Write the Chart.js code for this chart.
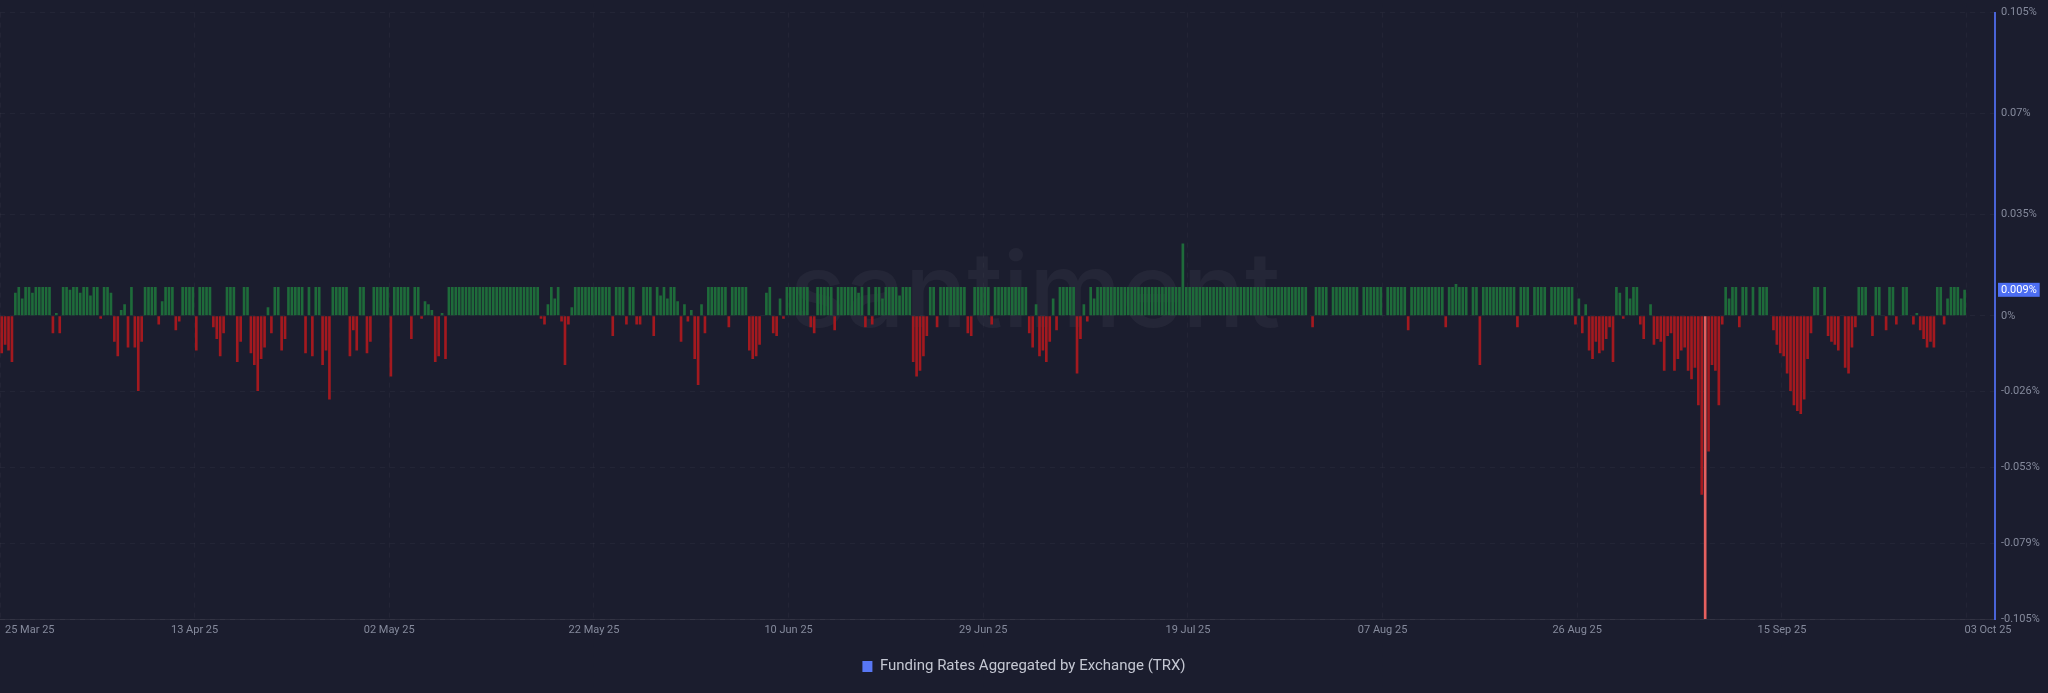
<!DOCTYPE html>
<html>
<head>
<meta charset="utf-8">
<script src="https://cdn.jsdelivr.net/npm/chart.js@4.4.0/dist/chart.umd.min.js"></script>
<style>
  html, body { margin: 0; padding: 0; background: #1b1d2e; }
  #chart { display: block; }
</style>
</head>
<body>
<canvas id="chart" width="2048" height="693"></canvas>
<script>
// funding rate every 8 hours from 25 Mar 25, in thousandths of a percent (10 = 0.01 %)
const rates = [
  -13,-10,-12,-16,8,10,6,10,10,8,10,10,10,10,10,-6,1,-6,10,10,9,10,10,8,
  10,10,7,10,10,-1,10,10,8,-9,-14,2,4,-11,10,-11,-26,-9,10,10,10,10,-3,5,
  10,10,10,-5,-2,10,10,10,10,-12,10,10,10,10,-4,-8,-14,-6,10,10,10,-16,-9,10,
  10,-13,-17,-26,-15,-11,3,-6,10,10,-12,-8,10,10,10,10,10,-13,10,-14,10,10,-17,-12,
  -29,10,10,10,10,10,-14,-5,-12,10,10,-13,-9,10,10,10,10,10,-21,10,10,10,10,10,
  -8,10,10,-1,5,4,2,-16,-14,1,-15,10,10,10,10,10,10,10,10,10,10,10,10,10,
  10,10,10,10,10,10,10,10,10,10,10,10,10,10,-1,-3,4,10,6,10,-2,-17,-3,3,
  10,10,10,10,10,10,10,10,10,10,10,-7,10,10,10,-3,10,10,-3,-3,10,10,10,-7,
  10,7,10,6,10,10,5,-9,4,-2,2,-15,-24,4,-6,10,10,10,10,10,10,-4,10,10,
  10,10,10,-12,-15,-14,-10,0,8,10,-6,-7,6,-1,10,10,10,10,10,10,10,-4,-6,10,
  10,10,10,10,-5,10,10,10,10,10,10,8,10,-4,10,-3,10,10,6,10,10,10,10,7,
  10,10,10,-16,-21,-19,-14,-7,10,10,-4,10,10,10,10,10,10,10,10,-6,-7,10,10,10,
  10,10,-3,10,10,10,10,10,10,10,10,10,10,-6,-11,4,-14,-12,-16,-9,6,-5,10,10,
  10,10,10,-20,-8,4,-2,10,6,10,10,10,10,10,10,10,10,10,10,10,10,10,10,10,
  10,10,10,10,10,10,10,10,10,10,25,10,10,10,10,10,10,10,10,10,10,10,10,10,
  10,10,10,10,10,10,10,10,10,10,10,10,10,10,10,10,10,10,10,10,10,10,10,0,
  -4,10,10,10,10,0,10,10,10,10,10,10,10,10,0,10,10,10,10,10,10,0,10,10,
  10,10,10,10,-5,10,10,10,10,10,10,10,10,10,10,-4,10,10,11,10,10,10,0,10,
  10,-17,10,10,10,10,10,10,10,10,10,10,-4,10,10,10,0,10,10,10,10,0,10,10,
  10,10,10,10,10,-3,6,-6,4,-12,-15,-9,-13,-12,-8,-4,-16,10,8,-1,10,6,10,10,
  -3,-8,0,4,-10,-8,-9,-19,-7,-6,-19,-15,-12,-11,-19,-22,-18,-31,-62,-105,-47,-17,-19,-31,
  -3,10,6,10,10,-4,10,10,0,10,0,10,10,10,0,-5,-10,-13,-14,-20,-26,-31,-33,-34,
  -29,-15,-6,10,10,0,10,-7,-9,-10,-12,0,-18,-20,-11,-4,10,10,10,0,-7,10,10,0,
  -5,10,10,-3,0,10,10,0,-3,1,-5,-8,-11,-9,-11,10,10,-3,6,10,10,10,6,9
];

// x ticks: days after 25 Mar 25
const tickDays = [0, 19, 38, 58, 77, 96, 116, 135, 154, 174, 192];
const tickLabels = ['25 Mar 25', '13 Apr 25', '02 May 25', '22 May 25', '10 Jun 25', '29 Jun 25',
  '19 Jul 25', '07 Aug 25', '26 Aug 25', '15 Sep 25', '03 Oct 25'];
const yTicks = [0.105, 0.07, 0.035, 0, -0.02625, -0.0525, -0.07875, -0.105];
const yTickLabels = ['0.105%', '0.07%', '0.035%', '0%', '-0.026%', '-0.053%', '-0.079%', '-0.105%'];
const seriesName = 'Funding Rates Aggregated by Exchange (TRX)';

const textGrey = '#858a9c';
const values = rates.map(r => r / 1000);
const points = values.map((v, i) => ({ x: i / 3 + 1 / 6, y: v }));
const lowest = Math.min(...values);
const barColors = values.map(v => v === lowest ? '#e5605f' : v >= 0 ? '#1e6b3a' : '#a3191f');

Chart.defaults.font.family = 'Roboto';

// big faint brand text behind the bars
const watermark = {
  id: 'watermark',
  beforeDatasetsDraw(chart) {
    const ctx = chart.ctx;
    ctx.save();
    ctx.font = '500 104px Inter';
    ctx.fillStyle = 'rgba(255,255,255,0.045)';
    ctx.textAlign = 'center';
    ctx.textBaseline = 'middle';
    ctx.fillText('santiment', 1035, 296);
    ctx.restore();
  }
};

// date labels, first and last one pushed inside like the original
const dateLabels = {
  id: 'dateLabels',
  afterDraw(chart) {
    const { ctx, chartArea } = chart;
    const xs = chart.scales.x;
    ctx.save();
    ctx.font = '11px Roboto';
    ctx.fillStyle = textGrey;
    ctx.textBaseline = 'middle';
    tickDays.forEach((d, i) => {
      let px = xs.getPixelForValue(d);
      ctx.textAlign = 'center';
      if (i === 0) { ctx.textAlign = 'left'; px += 5; }
      if (i === tickDays.length - 1) px = chartArea.right - 7;
      ctx.fillText(tickLabels[i], px, chartArea.bottom + 11);
    });
    ctx.restore();
  }
};

// blue tag with the latest value on the axis
const lastTag = {
  id: 'lastTag',
  afterDraw(chart) {
    const { ctx, chartArea } = chart;
    const last = values[values.length - 1];
    const y = chart.scales.y.getPixelForValue(last);
    const text = +last.toFixed(3) + '%';
    ctx.save();
    ctx.font = '11px Roboto';
    const w = ctx.measureText(text).width + 6;
    ctx.fillStyle = '#4d6ef2';
    ctx.fillRect(chartArea.right + 3, y - 7, w, 14);
    ctx.fillStyle = '#ffffff';
    ctx.textBaseline = 'middle';
    ctx.fillText(text, chartArea.right + 6, y + 0.5);
    ctx.restore();
  }
};

new Chart(document.getElementById('chart'), {
  type: 'bar',
  data: {
    datasets: [{
      label: seriesName,
      data: points,
      backgroundColor: barColors,
      borderWidth: 0,
      barPercentage: 0.78,
      categoryPercentage: 1
    }]
  },
  options: {
    responsive: false,
    animation: false,
    layout: { padding: { top: -3, bottom: 9, left: 0, right: 0 } },
    plugins: {
      legend: {
        position: 'bottom',
        labels: {
          color: '#c4c7d2',
          font: { size: 15 },
          boxWidth: 10,
          boxHeight: 11,
          padding: 10,
          generateLabels: () => [{ text: seriesName, fillStyle: '#5877f4', strokeStyle: '#5877f4', lineWidth: 0, fontColor: '#c4c7d2' }]
        }
      },
      tooltip: { enabled: false }
    },
    scales: {
      x: {
        type: 'linear',
        min: 0,
        max: 194.8,
        offset: false,
        afterBuildTicks: s => { s.ticks = tickDays.map(v => ({ value: v })); },
        afterFit: s => { s.height = 30; },
        ticks: { display: false },
        grid: { color: 'rgba(255,255,255,0.035)', drawTicks: false, offset: false },
        border: { color: 'rgba(255,255,255,0.07)', dash: [5, 5] }
      },
      y: {
        position: 'right',
        min: -0.105,
        max: 0.105,
        afterBuildTicks: s => { s.ticks = yTicks.map(v => ({ value: v })); },
        afterFit: s => { s.width = 53; },
        ticks: {
          color: textGrey,
          font: { size: 11 },
          padding: 6,
          callback: (v, i) => yTickLabels[i]
        },
        grid: { color: 'rgba(255,255,255,0.04)', drawTicks: false },
        border: { color: '#4a64d8', width: 2, dash: [5, 5] }
      }
    }
  },
  plugins: [watermark, dateLabels, lastTag]
});
</script>
</body>
</html>
